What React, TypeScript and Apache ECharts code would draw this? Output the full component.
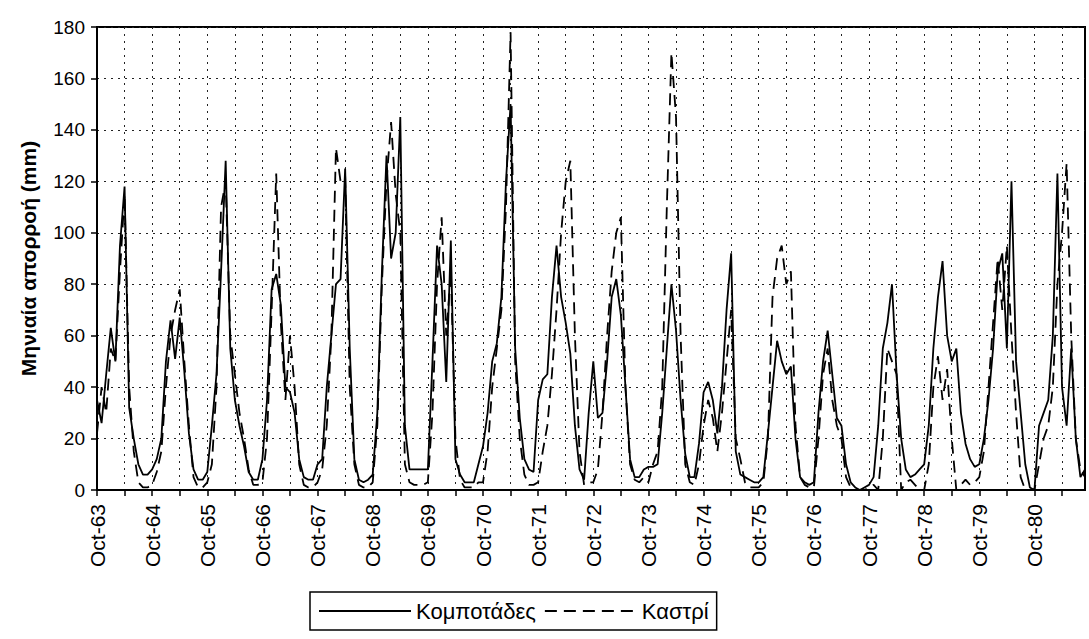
import React, { useEffect, useRef } from "react";
import * as echarts from "echarts";

const monthNames = ["Oct", "Nov", "Dec", "Jan", "Feb", "Mar", "Apr", "May", "Jun", "Jul", "Aug", "Sep"];
const startYears = [63, 64, 65, 66, 67, 68, 69, 70, 71, 72, 73, 74, 75, 76, 77, 78, 79, 80];

const categories: string[] = [];
startYears.forEach((y) => {
  monthNames.forEach((m, k) => {
    const yy = k < 3 ? y : y + 1;
    categories.push(`${m}-${String(yy).padStart(2, "0")}`);
  });
});

// Κομποτάδες (solid), hydrological years Oct..Sep
const kompotades = [
  35, 26, 45, 63, 50, 95, 118, 32, 20, 10, 6, 6,
  8, 12, 20, 50, 66, 51, 67, 46, 22, 8, 4, 4,
  7, 25, 45, 85, 128, 55, 35, 25, 17, 7, 4, 4,
  12, 35, 78, 84, 72, 40, 38, 30, 12, 5, 4, 4,
  10, 12, 40, 60, 80, 82, 125, 55, 12, 4, 3, 4,
  6, 30, 85, 130, 90, 100, 145, 25, 8, 8, 8, 8,
  8, 50, 95, 80, 42, 97, 12, 6, 3, 3, 3, 10,
  17, 30, 50, 57, 75, 120, 150, 55, 28, 12, 8, 7,
  35, 43, 45, 75, 95, 75, 65, 53, 25, 8, 4, 30,
  50, 28, 30, 50, 75, 82, 68, 40, 12, 5, 5, 8,
  9, 9, 10, 30, 55, 80, 62, 35, 14, 5, 5, 18,
  38, 42, 35, 22, 40, 70, 92, 15, 6, 5, 4, 3,
  3, 5, 22, 40, 58, 50, 45, 48, 20, 5, 3, 2,
  3, 30, 50, 62, 45, 28, 25, 10, 3, 1, 0, 1,
  2, 5, 25, 55, 65, 80, 45, 20, 8, 5, 6, 8,
  10, 25, 55, 75, 89, 60, 50, 55, 30, 18, 12, 9,
  10, 20, 35, 55, 85, 92, 55, 120, 50, 30, 10, 1,
  0, 25, 30, 35, 60, 123, 40, 25, 55, 20, 5, 8,
];

// Καστρί (dashed)
const kastri = [
  22, 40, 30, 55, 50, 85, 115, 40, 15, 3, 1, 1,
  2, 7, 15, 40, 60, 70, 78, 50, 25, 5, 1, 1,
  3, 10, 40, 110, 120, 60, 45, 30, 20, 8, 2, 2,
  3, 20, 70, 123, 65, 35, 60, 40, 10, 2, 1, 1,
  3, 8, 25, 60, 133, 120, 122, 40, 10, 2, 1, 1,
  3, 25, 80, 120, 143, 115, 100, 10, 3, 2, 2, 2,
  3, 30, 80, 106, 60, 85, 20, 4, 1, 1, 1, 3,
  3, 15, 40, 55, 70, 110, 178, 50, 20, 6, 2, 2,
  3, 15, 25, 45, 70, 100, 120, 128, 60, 15, 2, 3,
  3, 8, 30, 60, 85, 100, 106, 40, 10, 4, 3, 5,
  3, 10, 15, 40, 110, 170, 145, 60, 10, 3, 2, 10,
  25, 35, 28, 15, 30, 50, 70, 20, 12, 3, 1, 1,
  1, 3, 20, 75, 90, 95, 80, 85, 25, 5, 2, 1,
  1, 20, 45, 55, 35, 25, 20, 5, 1, 0, 0, 0,
  1, 2, 0, 20, 55, 50, 45, 0, 3, 4, 2, 0,
  0, 10, 40, 52, 35, 47, 20, 0, 2, 4, 2, 3,
  5, 15, 40, 65, 90, 70, 95, 60, 30, 5, 0, 0,
  0, 10, 20, 25, 40, 80, 100, 127, 60, 20, 8, 5,
];

const seriesNames = ["Κομποτάδες", "Καστρί"];
const yTitle = "Μηνιαία απορροή (mm)";

export default function App() {
  const ref = useRef<HTMLDivElement>(null);
  useEffect(() => {
    if (!ref.current) return;
    const chart = echarts.init(ref.current, undefined, { renderer: "svg" });
    const font = "'Liberation Sans', Arial, sans-serif";
    chart.setOption({
      animation: false,
      backgroundColor: "#ffffff",
      textStyle: { fontFamily: font, color: "#000" },
      grid: {
        left: 97,
        right: 4,
        top: 27,
        bottom: 149,
        show: true,
        borderColor: "#000",
        borderWidth: 2,
        backgroundColor: "transparent",
      },
      xAxis: {
        type: "category",
        data: categories,
        boundaryGap: false,
        axisLine: { lineStyle: { color: "#000", width: 2 } },
        axisTick: { interval: 5, length: 6, lineStyle: { color: "#000", width: 1.5 } },
        axisLabel: { interval: 11, rotate: 90, margin: 14, fontSize: 21, color: "#000", fontFamily: font },
        splitLine: { show: true, interval: 5, lineStyle: { type: [2, 5], color: "#222", width: 1 } },
      },
      yAxis: {
        type: "value",
        min: 0,
        max: 180,
        interval: 20,
        name: yTitle,
        nameLocation: "middle",
        nameGap: 58,
        nameTextStyle: { fontSize: 21, fontWeight: "bold", color: "#000", fontFamily: font },
        axisLine: { show: true, lineStyle: { color: "#000", width: 2 } },
        axisTick: { show: true, length: 6, lineStyle: { color: "#000", width: 1.5 } },
        axisLabel: { fontSize: 19, margin: 12, color: "#000", fontFamily: font },
        splitLine: { show: true, lineStyle: { type: [2, 5], color: "#222", width: 1 } },
      },
      legend: {
        left: 310,
        top: 592,
        orient: "horizontal",
        itemWidth: 92,
        itemHeight: 14,
        itemGap: 8,
        padding: [8, 8, 8, 8],
        borderColor: "#000",
        borderWidth: 1.5,
        itemStyle: { opacity: 0, color: "transparent", borderColor: "transparent", borderWidth: 0 },
        textStyle: { fontSize: 22, color: "#000", fontFamily: font },
        data: seriesNames,
      },
      series: [
        {
          name: seriesNames[0],
          type: "line",
          data: kompotades,
          symbol: "none",
          lineStyle: { color: "#000", width: 1.8, type: "solid" },
          itemStyle: { color: "#000" },
        },
        {
          name: seriesNames[1],
          type: "line",
          data: kastri,
          symbol: "none",
          lineStyle: { color: "#000", width: 1.8, type: [12, 7] },
          itemStyle: { color: "#000" },
        },
      ],
    });
    return () => chart.dispose();
  }, []);
  return (
    <div
      ref={ref}
      style={{ position: "fixed", left: 0, top: 0, width: 1089, height: 639, background: "#fff" }}
    />
  );
}
